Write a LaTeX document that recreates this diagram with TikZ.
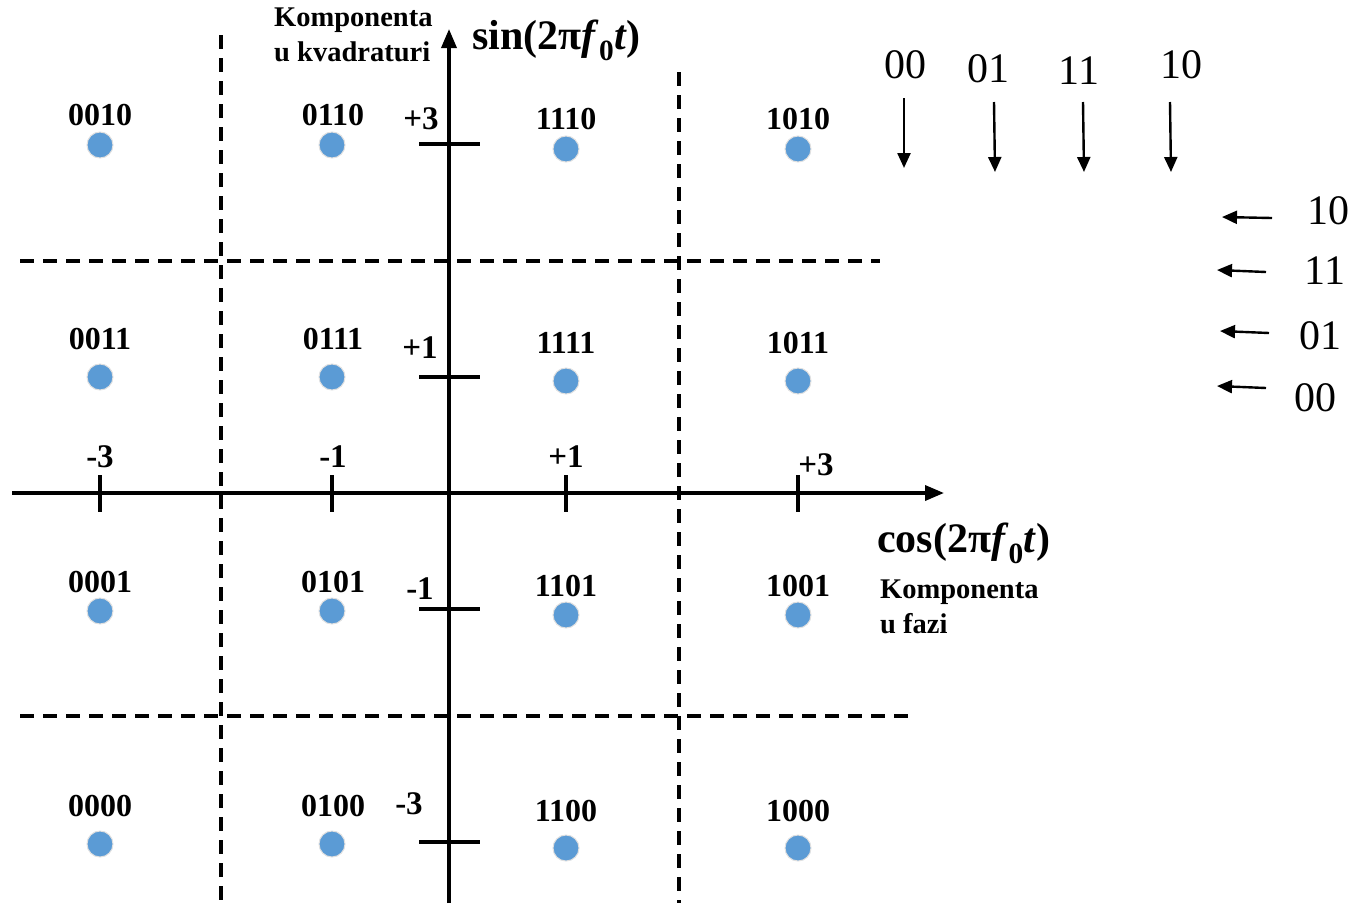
\documentclass[tikz,border=0pt]{standalone}
\usepackage{fontspec}
\setmainfont{Liberation Serif}
\usetikzlibrary{arrows.meta}
\definecolor{dotblue}{HTML}{5B9BD5}

\begin{document}
\begin{tikzpicture}[x=1pt,y=-1pt]
\tikzset{
  symdot/.style={circle,fill=dotblue,draw=black!12,line width=1pt,minimum size=26pt,inner sep=0pt},
  codelabel/.style={font=\fontsize{32}{36}\selectfont\bfseries,inner sep=0pt},
  axlabel/.style={font=\fontsize{33}{36}\selectfont\bfseries,inner sep=0pt},
  funlabel/.style={font=\fontsize{42}{46}\selectfont\bfseries,inner sep=0pt,anchor=west},
  namelabel/.style={font=\fontsize{28.5}{34.5}\selectfont\bfseries,inner sep=0pt,anchor=north west,align=left},
  bitlabel/.style={font=\fontsize{42}{46}\selectfont,inner sep=0pt},
  axis/.style={line width=3.5pt,-{Triangle[length=19pt,width=15pt]}},
  axtick/.style={line width=3.5pt},
  divider/.style={line width=3.5pt,dash pattern=on 14pt off 9pt},
  bitarrow/.style={line width=2.4pt,-{Triangle[length=15pt,width=13pt]}}
}
\useasboundingbox (0,0) rectangle (1363,903);
% decision boundaries
\draw[divider] (221,35) -- (221,903);
\draw[divider] (679,72) -- (679,903);
\draw[divider] (20,261) -- (880,261);
\draw[divider] (20,716) -- (910,716);
% axes
\coordinate (x_start) at (12,493);
\coordinate (x_end) at (944,493);
\coordinate (y_start) at (449,903);
\coordinate (y_end) at (449,29);
\draw[axis] (x_start) -- (x_end);
\draw[axis] (y_start) -- (y_end);
\draw[axtick] (100,475) -- (100,512);
\draw[axtick] (332,475) -- (332,512);
\draw[axtick] (566,475) -- (566,512);
\draw[axtick] (798,475) -- (798,512);
\draw[axtick] (419,144) -- (480,144);
\draw[axtick] (419,377) -- (480,377);
\draw[axtick] (419,609) -- (480,609);
\draw[axtick] (419,842) -- (480,842);
\node[axlabel] (t_xm3) at (100,457) {-3};
\node[axlabel] (t_xm1) at (333,457) {-1};
\node[axlabel] (t_xp1) at (566,457) {+1};
\node[axlabel] (t_xp3) at (816,465) {+3};
\node[axlabel] (t_yp3) at (421,119) {+3};
\node[axlabel] (t_yp1) at (420,348) {+1};
\node[axlabel] (t_ym1) at (420,589) {-1};
\node[axlabel] (t_ym3) at (409,804) {-3};
\node[funlabel] (l_sin) at (472,40) {sin(2π\textit{f}\textsubscript{\textup{0}}\textit{t})};
\node[funlabel] (l_cos) at (877,543) {cos(2π\textit{f}\textsubscript{\textup{0}}\textit{t})};
\node[namelabel] (l_quad) at (274,8) {Komponenta\\u kvadraturi};
\node[namelabel] (l_phase) at (880,580) {Komponenta\\u fazi};
% constellation points
\node[symdot] (p0010) at (100,145) {};
\node[symdot] (p0110) at (332,145) {};
\node[symdot] (p1110) at (566,149) {};
\node[symdot] (p1010) at (798,149) {};
\node[symdot] (p0011) at (100,377) {};
\node[symdot] (p0111) at (332,377) {};
\node[symdot] (p1111) at (566,381) {};
\node[symdot] (p1011) at (798,381) {};
\node[symdot] (p0001) at (100,611) {};
\node[symdot] (p0101) at (332,611) {};
\node[symdot] (p1101) at (566,615) {};
\node[symdot] (p1001) at (798,615) {};
\node[symdot] (p0000) at (100,844) {};
\node[symdot] (p0100) at (332,844) {};
\node[symdot] (p1100) at (566,848) {};
\node[symdot] (p1000) at (798,848) {};
\node[codelabel] (c0010) at (100,115) {0010};
\node[codelabel] (c0110) at (333,115) {0110};
\node[codelabel] (c1110) at (566,119) {1110};
\node[codelabel] (c1010) at (798,119) {1010};
\node[codelabel] (c0011) at (100,339) {0011};
\node[codelabel] (c0111) at (333,339) {0111};
\node[codelabel] (c1111) at (566,343) {1111};
\node[codelabel] (c1011) at (798,343) {1011};
\node[codelabel] (c0001) at (100,582) {0001};
\node[codelabel] (c0101) at (333,582) {0101};
\node[codelabel] (c1101) at (566,586) {1101};
\node[codelabel] (c1001) at (798,586) {1001};
\node[codelabel] (c0000) at (100,806) {0000};
\node[codelabel] (c0100) at (333,806) {0100};
\node[codelabel] (c1100) at (566,811) {1100};
\node[codelabel] (c1000) at (798,811) {1000};
% Gray code legend
\node[bitlabel] (b_i00) at (905,65) {00};
\node[bitlabel] (b_i01) at (988,69) {01};
\node[bitlabel] (b_i11) at (1079,71) {11};
\node[bitlabel] (b_i10) at (1181,65) {10};
\coordinate (a_i00) at (904,168);
\coordinate (a_i01) at (995,172);
\coordinate (a_i11) at (1084,172);
\coordinate (a_i10) at (1171,172);
\draw[bitarrow] (904,98) -- (a_i00);
\draw[bitarrow] (994,102) -- (a_i01);
\draw[bitarrow] (1083,102) -- (a_i11);
\draw[bitarrow] (1170,102) -- (a_i10);
\node[bitlabel] (b_q10) at (1328,211) {10};
\node[bitlabel] (b_q11) at (1325,271) {11};
\node[bitlabel] (b_q01) at (1320,336) {01};
\node[bitlabel] (b_q00) at (1315,398) {00};
\coordinate (a_q10) at (1222,217);
\coordinate (a_q11) at (1217,270);
\coordinate (a_q01) at (1220,331);
\coordinate (a_q00) at (1217,386);
\draw[bitarrow] (1272,218) -- (a_q10);
\draw[bitarrow] (1266,272) -- (a_q11);
\draw[bitarrow] (1269,333) -- (a_q01);
\draw[bitarrow] (1266,388) -- (a_q00);
\end{tikzpicture}
\end{document}
